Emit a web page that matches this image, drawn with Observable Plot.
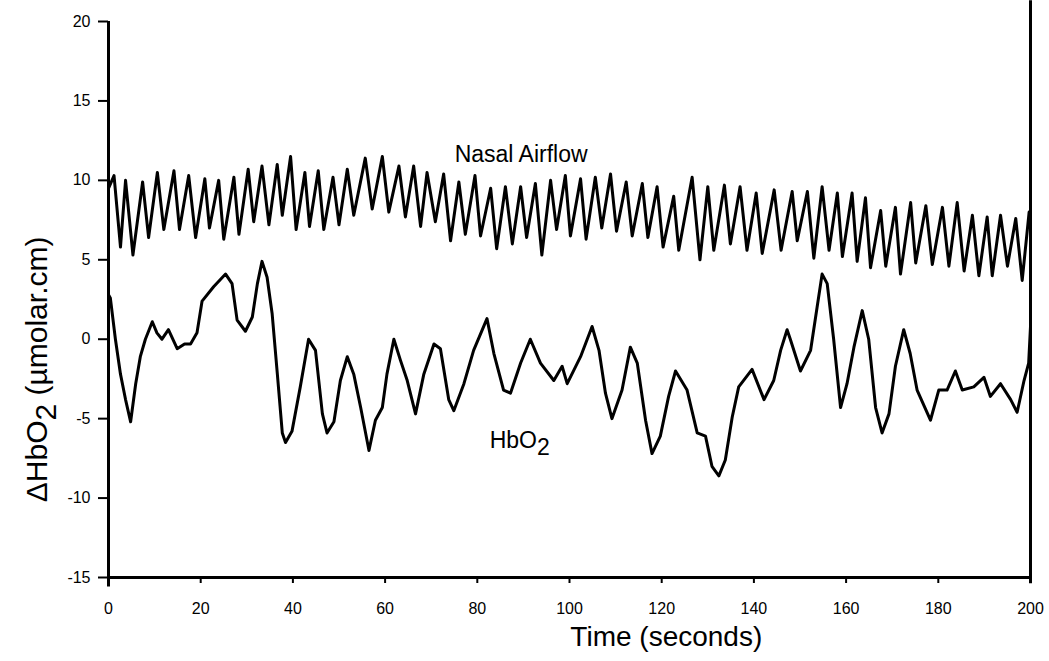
<!DOCTYPE html>
<html>
<head>
<meta charset="utf-8">
<script src="https://cdn.jsdelivr.net/npm/d3@7"></script>
<script src="https://cdn.jsdelivr.net/npm/@observablehq/plot@0.6"></script>
<style>
  html, body { margin: 0; padding: 0; background: #fff; }
  svg { font-family: "Liberation Sans", Arial, Helvetica, sans-serif; }
</style>
</head>
<body>
<div id="chart"></div>
<script>
// ---- Data ----
const xTicks = [0, 20, 40, 60, 80, 100, 120, 140, 160, 180, 200];
const yTicks = [-15, -10, -5, 0, 5, 10, 15, 20];

// Nasal airflow trace (time s, value)
const airflowTime = [0,1.2,2.6,3.7,5.3,7.4,8.7,10.6,12.0,14.2,15.4,17.4,18.9,20.9,21.9,23.9,25.0,27.2,28.3,30.3,31.5,33.3,34.8,36.6,37.7,39.5,40.7,42.6,43.6,45.5,46.7,48.7,50.0,51.8,53.2,55.7,57.2,59.4,60.8,63.0,64.4,66.2,67.7,69.1,70.9,72.7,74.2,76.0,77.4,79.5,80.7,82.9,84.2,86.1,87.6,89.4,90.7,92.6,94.0,95.9,97.2,99.1,100.2,102.4,103.6,105.6,107.0,108.9,110.2,112.3,113.6,115.8,117.0,119.0,120.3,122.6,123.7,126.6,128.3,130.0,131.3,133.6,134.9,137.0,138.5,140.5,141.8,144.4,145.9,148.3,149.4,151.6,153.0,154.8,156.3,158.1,159.2,161.3,162.4,164.2,165.3,167.5,168.6,170.7,171.8,174.0,175.1,177.3,178.7,180.9,182.3,184.1,185.6,187.4,188.8,190.6,191.7,193.5,195.0,196.8,198.2,199.7];
const airflowValue = [9.5,10.3,5.8,10.0,5.3,9.9,6.4,10.5,6.9,10.6,6.9,10.3,6.4,10.1,7.0,10.0,6.3,10.2,6.6,10.7,7.4,10.9,7.2,11.0,7.8,11.5,6.9,10.5,7.1,10.6,6.9,10.2,7.2,10.7,7.8,11.4,8.2,11.5,8.0,10.9,7.7,10.9,7.1,10.5,7.4,10.4,6.2,9.9,6.6,10.3,6.5,9.5,5.7,9.6,6.0,9.6,6.4,9.8,5.3,10.0,6.9,10.3,6.5,10.1,6.3,10.2,7.0,10.4,6.8,9.9,6.5,9.8,6.4,9.6,5.8,9.0,5.6,10.2,5.0,9.6,5.6,9.7,6.0,9.6,5.6,9.2,5.4,9.4,5.6,9.3,6.2,9.3,5.1,9.6,5.6,9.2,5.2,9.2,4.9,8.9,4.5,8.1,4.6,8.3,4.1,8.6,4.8,8.4,4.7,8.3,4.6,8.6,4.3,7.8,4.0,7.7,4.0,7.8,4.6,7.6,3.7,8.0];

// HbO2 trace (time s, value)
const hboTime = [0,0.4,1.5,2.6,3.7,4.8,5.9,6.9,8.0,9.5,10.5,11.6,13.0,14.9,16.5,17.8,19.2,20.3,22.8,25.4,26.8,27.9,29.7,31.2,32.3,33.3,34.4,35.5,36.6,37.7,38.4,39.8,41.6,43.4,44.9,46.4,47.4,48.9,50.3,51.8,53.2,54.7,56.5,57.9,59.4,60.4,61.9,63.3,64.8,66.6,68.4,70.6,72.0,73.8,74.9,77.1,79.2,82.1,83.6,85.7,87.2,89.4,91.5,93.7,96.6,98.4,99.5,102.4,104.9,106.4,107.8,109.2,111.4,113.2,114.7,116.5,117.9,119.7,121.5,123.0,125.5,127.7,129.5,130.9,132.4,133.8,135.3,136.7,139.6,142.2,144.3,145.8,147.2,147.9,150.1,152.3,153.7,154.8,155.9,157.3,158.8,160.2,161.7,163.5,164.9,166.4,167.8,169.3,170.7,172.5,173.9,175.4,178.3,180.1,181.9,183.7,185.2,187.7,189.9,191.3,193.5,195.7,197.1,198.6,199.6,200];
const hboValue = [2.8,2.6,0.0,-2.2,-3.8,-5.2,-2.8,-1.1,0.0,1.1,0.4,0.0,0.6,-0.6,-0.3,-0.3,0.4,2.4,3.3,4.1,3.5,1.2,0.5,1.4,3.5,4.9,3.9,1.6,-2.1,-5.9,-6.5,-5.8,-3.0,0.0,-0.7,-4.7,-5.9,-5.2,-2.6,-1.1,-2.2,-4.3,-7.0,-5.1,-4.3,-2.2,0.0,-1.3,-2.6,-4.7,-2.2,-0.3,-0.6,-3.8,-4.5,-2.8,-0.7,1.3,-0.9,-3.2,-3.4,-1.5,0.0,-1.5,-2.6,-1.7,-2.8,-1.1,0.8,-0.7,-3.4,-5.0,-3.2,-0.5,-1.5,-5.1,-7.2,-6.1,-3.6,-2.0,-3.2,-5.9,-6.1,-8.0,-8.6,-7.6,-4.9,-3.0,-1.9,-3.8,-2.6,-0.7,0.6,0.0,-2.0,-0.7,2.0,4.1,3.5,0.0,-4.3,-2.8,-0.5,1.8,0.0,-4.3,-5.9,-4.7,-1.7,0.6,-0.9,-3.2,-5.1,-3.2,-3.2,-2.0,-3.2,-3.0,-2.4,-3.6,-2.8,-3.8,-4.6,-2.6,-1.5,0.8];

// Annotations (text, anchor time, anchor value)
const labelText = ["Nasal Airflow", "HbO2"];
const labelTime = [89.5, 89.2];
const labelValue = [11.6, -6.4];

// Axis titles
const xTitle = "Time (seconds)";
const xTitleTime = 121;
const yTitle = "ΔHbO2 (µmolar.cm)";
const yTitleValue = -1.9;

// right edge trace line
const edgeTime = [200];

// ---- Build ----
const airflow = airflowTime.map((t, i) => ({t, v: airflowValue[i]}));
const hbo = hboTime.map((t, i) => ({t, v: hboValue[i]}));
const labels = labelText.map((s, i) => ({s, t: labelTime[i], v: labelValue[i]}));

const yMin = d3.min(yTicks), yMax = d3.max(yTicks);

const chart = Plot.plot({
  width: 1049,
  height: 661,
  marginLeft: 108,
  marginRight: 19,
  marginTop: 21,
  marginBottom: 84,
  style: {fontFamily: '"Liberation Sans", Arial, sans-serif', background: "#fff", color: "#000", overflow: "visible"},
  x: {domain: [0, 200]},
  y: {domain: [yMin, yMax]},
  marks: [
    Plot.axisX({ticks: xTicks, tickSize: 6, tickPadding: 19, fontSize: 16, label: null, strokeWidth: 2, tickFormat: d => String(d)}),
    Plot.axisY({ticks: yTicks, tickSize: 10, tickPadding: 8, fontSize: 16, label: null, strokeWidth: 2, tickFormat: d => String(d)}),
    Plot.ruleY([yMin], {stroke: "#000", strokeWidth: 3}),
    Plot.ruleX([0], {y1: yMin - 0.6, y2: yMax, stroke: "#000", strokeWidth: 3, clip: false}),
    Plot.ruleX(edgeTime, {y1: yMin - 0.4, y2: yMax + 1.3, stroke: "#000", strokeWidth: 3}),
    Plot.line(airflow, {x: "t", y: "v", stroke: "#000", strokeWidth: 3, strokeLinejoin: "round"}),
    Plot.line(hbo, {x: "t", y: "v", stroke: "#000", strokeWidth: 3, strokeLinejoin: "round"}),
    Plot.text(labels, {x: "t", y: "v", text: "s", fontSize: 23, fill: "#000", textAnchor: "middle"}),
    Plot.text([xTitle], {x: xTitleTime, frameAnchor: "bottom", dy: 68, fontSize: 28, fill: "#000", textAnchor: "middle"}),
    Plot.text([yTitle], {y: yTitleValue, frameAnchor: "left", dx: -71, rotate: -90, fontSize: 30, fill: "#000", textAnchor: "middle"})
  ]
});

// subscripts for "O2"
d3.select(chart).selectAll("text").each(function() {
  const txt = this.textContent;
  if (txt.includes("O2") && this.children.length === 0) {
    const i = txt.indexOf("O2");
    const sel = d3.select(this);
    sel.text(null);
    sel.append("tspan").text(txt.slice(0, i + 1));
    sel.append("tspan").attr("dy", "0.3em").text("2");
    const rest = txt.slice(i + 2);
    if (rest) sel.append("tspan").attr("dy", "-0.3em").text(rest);
  }
});

document.getElementById("chart").appendChild(chart);
</script>
</body>
</html>
